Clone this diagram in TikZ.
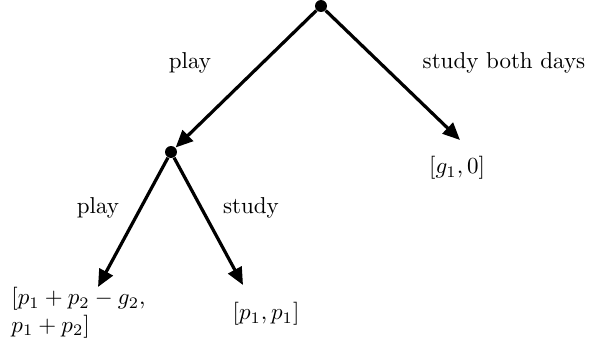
\documentclass[tikz,border=0pt]{standalone}
\usetikzlibrary{arrows.meta}
\begin{document}
\begin{tikzpicture}[x=0.4348pt,y=-0.4348pt,
  dot/.style={circle,fill=black,inner sep=0pt,minimum size=5.2pt},
  edge/.style={line width=1.4pt,-{Triangle[length=7.5pt,width=6.5pt]}},
  lbl/.style={inner sep=0pt}]
\useasboundingbox (0,0) rectangle (589,347);
\node[dot] (r) at (321,6) {};
\node[dot] (m) at (171,152) {};
\coordinate (e1) at (460,140);
\coordinate (e2) at (98,287);
\coordinate (e3) at (243,285);
\draw[edge] (r) -- (m);
\draw[edge] (r) -- (e1);
\draw[edge] (m) -- (e2);
\draw[edge] (m) -- (e3);
\node[lbl] (l1) at (190,63) {play};
\node[lbl] (l2) at (504,63) {study both days};
\node[lbl] (l3) at (98,208) {play};
\node[lbl] (l4) at (251,208) {study};
\node[lbl] (t1) at (457,168) {$[g_1,0]$};
\node[lbl,anchor=north west,align=left] (t2) at (11,287) {$[p_1+p_2-g_2,$\\$p_1+p_2]$};
\node[lbl] (t3) at (266,314) {$[p_1,p_1]$};
\end{tikzpicture}
\end{document}
